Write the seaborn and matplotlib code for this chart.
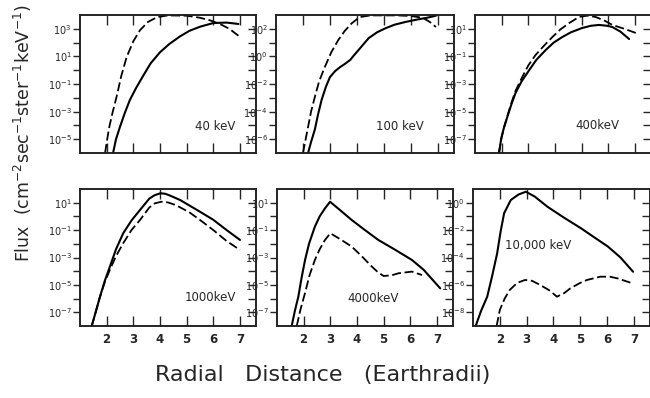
import numpy as np
import pandas as pd
import matplotlib
matplotlib.use("Agg")
import matplotlib.pyplot as plt
import seaborn as sns

# ---------------- data (log10 of flux) ----------------
panel_titles = ["40 keV", "100 keV", "400keV", "1000keV", "4000keV", "10,000 keV"]
ylog_limits = [(-6, 4), (-7, 3), (-8, 2), (-8, 2), (-8, 2), (-9, 1)]
x_ticks = [2, 3, 4, 5, 6, 7]

p1_solid_x = [2.24, 2.35, 2.5, 2.68, 2.87, 3.1, 3.37, 3.65, 4.0, 4.35, 4.75, 5.1, 5.5, 6.0, 6.5, 6.94]
p1_solid_y = [-6.0, -5.0, -4.1, -3.1, -2.16, -1.3, -0.4, 0.5, 1.3, 1.9, 2.45, 2.85, 3.15, 3.42, 3.45, 3.35]
p1_dash_x = [1.94, 2.02, 2.1, 2.23, 2.37, 2.55, 2.75, 3.0, 3.25, 3.55, 3.9, 4.3, 5.0, 5.5, 5.9, 6.3, 6.6, 6.94]
p1_dash_y = [-6.0, -5.0, -4.1, -3.0, -1.94, -0.4, 0.96, 2.1, 2.9, 3.5, 3.85, 3.97, 3.95, 3.8, 3.6, 3.3, 3.0, 2.5]

p2_solid_x = [2.19, 2.3, 2.44, 2.56, 2.69, 2.85, 3.0, 3.2, 3.38, 3.55, 3.75, 3.9, 4.06, 4.25, 4.44, 4.75, 5.06, 5.4, 5.81, 6.31, 6.6, 6.93]
p2_solid_y = [-7.0, -6.2, -5.3, -4.2, -3.16, -2.2, -1.5, -1.05, -0.77, -0.55, -0.26, 0.1, 0.46, 0.9, 1.33, 1.75, 2.04, 2.3, 2.5, 2.7, 2.8, 2.95]
p2_dash_x = [2.0, 2.1, 2.19, 2.3, 2.44, 2.6, 2.81, 3.05, 3.31, 3.55, 3.81, 4.1, 4.5, 5.0, 5.5, 6.0, 6.44, 6.7, 6.93]
p2_dash_y = [-7.0, -6.0, -5.1, -4.0, -2.94, -1.8, -0.77, 0.3, 1.19, 1.85, 2.4, 2.85, 2.97, 2.97, 2.97, 2.93, 2.8, 2.5, 2.13]

p3_solid_x = [1.9, 1.98, 2.08, 2.21, 2.36, 2.52, 2.75, 3.03, 3.3, 3.65, 3.95, 4.27, 4.6, 5.02, 5.35, 5.65, 5.95, 6.15, 6.45, 6.78]
p3_solid_y = [-8.0, -7.0, -6.2, -5.4, -4.5, -3.65, -2.8, -2.0, -1.25, -0.54, 0.0, 0.4, 0.75, 1.06, 1.22, 1.28, 1.22, 1.13, 0.8, 0.26]
p3_dash_x = [1.9, 1.98, 2.08, 2.21, 2.36, 2.52, 2.77, 3.0, 3.27, 3.6, 3.9, 4.2, 4.52, 4.9, 5.2, 5.52, 5.85, 6.15, 6.6, 7.03]
p3_dash_y = [-8.0, -7.0, -6.2, -5.35, -4.4, -3.5, -2.5, -1.65, -0.9, -0.2, 0.4, 0.95, 1.4, 1.86, 1.95, 1.86, 1.6, 1.28, 1.0, 0.7]

p4_solid_x = [1.44, 1.6, 1.75, 1.93, 2.12, 2.35, 2.62, 2.93, 3.25, 3.6, 3.8, 4.02, 4.2, 4.4, 4.75, 5.1, 5.5, 6.0, 6.5, 7.0]
p4_solid_y = [-8.0, -6.9, -5.86, -4.7, -3.67, -2.4, -1.23, -0.3, 0.47, 1.3, 1.55, 1.69, 1.65, 1.5, 1.2, 0.8, 0.34, -0.25, -1.0, -1.72]
p4_dash_x = [1.44, 1.6, 1.75, 1.93, 2.12, 2.35, 2.62, 2.93, 3.25, 3.6, 3.8, 4.05, 4.3, 4.6, 5.1, 5.5, 6.0, 6.5, 7.0]
p4_dash_y = [-8.0, -6.9, -5.86, -4.8, -3.9, -2.9, -1.96, -1.0, -0.26, 0.65, 0.95, 1.07, 1.02, 0.82, 0.3, -0.26, -1.0, -1.8, -2.45]

p5_solid_x = [1.55, 1.67, 1.8, 1.92, 2.05, 2.2, 2.42, 2.6, 2.8, 2.99, 3.4, 3.8, 4.3, 4.8, 5.4, 6.06, 6.5, 7.12]
p5_solid_y = [-8.0, -6.9, -5.86, -4.5, -3.2, -2.0, -0.75, 0.0, 0.59, 1.07, 0.4, -0.26, -1.0, -1.72, -2.4, -3.18, -3.9, -5.25]
p5_dash_x = [1.74, 1.88, 2.05, 2.22, 2.42, 2.6, 2.8, 3.0, 3.4, 3.8, 4.2, 4.56, 4.8, 5.0, 5.3, 5.56, 6.06, 6.44]
p5_dash_y = [-8.0, -6.8, -5.6, -4.3, -3.18, -2.4, -1.72, -1.23, -1.7, -2.2, -2.95, -3.67, -4.1, -4.35, -4.3, -4.15, -4.03, -4.28]

p6_solid_x = [1.1, 1.3, 1.53, 1.72, 1.9, 2.03, 2.16, 2.41, 2.7, 2.97, 3.3, 3.78, 4.4, 5.03, 5.5, 6.03, 6.5, 6.97]
p6_solid_y = [-9.0, -7.9, -6.86, -5.3, -3.7, -2.1, -0.77, 0.2, 0.6, 0.8, 0.45, -0.3, -1.1, -1.87, -2.5, -3.2, -4.0, -5.04]
p6_dash_x = [1.88, 2.0, 2.18, 2.37, 2.65, 2.94, 3.2, 3.5, 3.85, 4.13, 4.4, 4.63, 5.0, 5.25, 5.75, 6.1, 6.38, 6.97]
p6_dash_y = [-9.0, -7.83, -7.0, -6.37, -5.85, -5.64, -5.7, -6.0, -6.4, -6.86, -6.6, -6.25, -5.85, -5.64, -5.4, -5.4, -5.52, -5.9]

solid_x = [p1_solid_x, p2_solid_x, p3_solid_x, p4_solid_x, p5_solid_x, p6_solid_x]
solid_y = [p1_solid_y, p2_solid_y, p3_solid_y, p4_solid_y, p5_solid_y, p6_solid_y]
dash_x = [p1_dash_x, p2_dash_x, p3_dash_x, p4_dash_x, p5_dash_x, p6_dash_x]
dash_y = [p1_dash_y, p2_dash_y, p3_dash_y, p4_dash_y, p5_dash_y, p6_dash_y]

# ---------------- style ----------------
sns.set_style("white")
plt.rcParams["font.family"] = ["DejaVu Sans"]
plt.rcParams["mathtext.fontset"] = "dejavusans"

fig = plt.figure(figsize=(6.5, 3.98), dpi=100)
W, H = 650.0, 398.0

# pixel boxes (left, top, right, bottom)
boxes = [(80, 15, 256, 153), (276, 15, 454, 153), (475, 15, 651, 153),
         (80, 189, 256, 326), (277, 189, 453, 326), (473, 189, 650, 326)]

label_pos = [(0.655, 0.19), (0.56, 0.19), (0.57, 0.2),
             (0.597, 0.21), (0.40, 0.2), (0.18, 0.59)]

for i in range(6):
    l, t, r, b = boxes[i]
    ax = fig.add_axes([l / W, 1 - b / H, (r - l) / W, (b - t) / H])
    df = pd.concat([
        pd.DataFrame({"x": solid_x[i], "flux": np.power(10.0, solid_y[i]), "kind": "solid"}),
        pd.DataFrame({"x": dash_x[i], "flux": np.power(10.0, dash_y[i]), "kind": "dashed"}),
    ], ignore_index=True)
    ax.set_yscale("log")
    sns.lineplot(data=df, x="x", y="flux", style="kind", units="kind", estimator=None,
                 sort=False, color="black", legend=False,
                 dashes={"solid": "", "dashed": (5, 2)}, ax=ax)
    for ln in ax.get_lines():
        if ln.get_linestyle() == "-":
            ln.set_linewidth(1.5)
        else:
            ln.set_linewidth(1.3)
    lo, hi = ylog_limits[i]
    ax.set_xlim(1.0, 7.6)
    ax.set_ylim(10.0 ** lo, 10.0 ** hi)
    decs = list(range(lo + 1, hi))
    ax.set_yticks([10.0 ** d for d in decs])
    ax.set_yticklabels([(r"$10^{%d}$" % d) if (d - lo) % 2 == 1 else "" for d in decs])
    ax.yaxis.set_minor_locator(matplotlib.ticker.NullLocator())
    ax.set_xticks(x_ticks)
    ax.set_xlabel("")
    ax.set_ylabel("")
    ax.tick_params(axis="y", which="major", direction="out", length=5, width=1.0,
                   labelsize=7, pad=1, left=True, right=False)
    ax.tick_params(axis="x", which="major", direction="in", length=7, width=1.0,
                   top=True, bottom=True, labelsize=8.5, pad=5)
    if i < 3:
        ax.tick_params(axis="x", labelbottom=False)
    else:
        for lab in ax.get_xticklabels():
            lab.set_fontweight("bold")
    for s in ax.spines.values():
        s.set_linewidth(1.1)
        s.set_color("black")
    tw = ax.twinx()
    tw.set_yscale("log")
    tw.set_ylim(10.0 ** lo, 10.0 ** hi)
    tw.set_yticks([10.0 ** d for d in decs])
    tw.yaxis.set_minor_locator(matplotlib.ticker.NullLocator())
    tw.tick_params(axis="y", direction="in", length=6, width=1.0, labelright=False, right=True)
    for s in tw.spines.values():
        s.set_linewidth(1.1)
    tx, ty = label_pos[i]
    ax.text(tx, ty, panel_titles[i], transform=ax.transAxes, fontsize=8.5, ha="left", va="center")

fig.text(0.036, 0.665, r"Flux  (cm$^{-2}$sec$^{-1}$ster$^{-1}$keV$^{-1}$)",
         rotation=90, ha="center", va="center", fontsize=12.5)
fig.text(0.497, 0.058, "Radial   Distance   (Earthradii)", ha="center", va="center", fontsize=16)

fig.savefig("out.png", dpi=100, facecolor="white")
